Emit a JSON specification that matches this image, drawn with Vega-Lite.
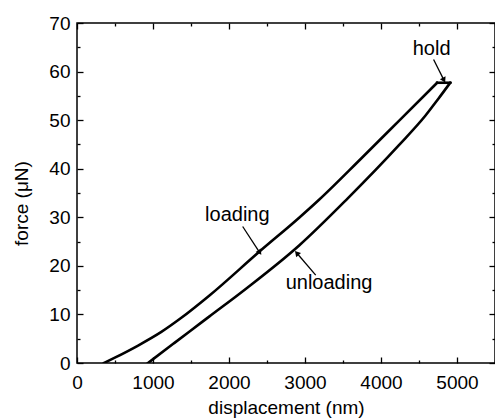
{
  "$schema": "https://vega.github.io/schema/vega-lite/v6.json",
  "width": 418,
  "height": 340,
  "autosize": {"type": "none"},
  "padding": {"left": 77, "top": 23, "right": 0, "bottom": 56},
  "background": "white",
  "config": {
    "view": {"stroke": "black", "strokeWidth": 1.5},
    "font": "Liberation Sans",
    "axis": {"domain": false, "grid": false, "tickColor": "black", "tickWidth": 1.3, "labelColor": "black", "titleColor": "black", "labelFontSize": 19, "titleFontSize": 19, "titleFontWeight": "normal", "labelFont": "Liberation Sans", "titleFont": "Liberation Sans", "labelFlush": false, "labelOverlap": false}
  },
  "datasets": {
    "curve": [
      {"segment": "loading", "i": 1, "displacement": 355, "force": 0},
      {"segment": "loading", "i": 2, "displacement": 498, "force": 1.1},
      {"segment": "loading", "i": 3, "displacement": 804, "force": 3.6},
      {"segment": "loading", "i": 4, "displacement": 1110, "force": 6.4},
      {"segment": "loading", "i": 5, "displacement": 1373, "force": 9.3},
      {"segment": "loading", "i": 6, "displacement": 1743, "force": 13.9},
      {"segment": "loading", "i": 7, "displacement": 2398, "force": 22.9},
      {"segment": "loading", "i": 8, "displacement": 2923, "force": 29.9},
      {"segment": "loading", "i": 9, "displacement": 3185, "force": 33.6},
      {"segment": "loading", "i": 10, "displacement": 3733, "force": 42.0},
      {"segment": "loading", "i": 11, "displacement": 4233, "force": 49.8},
      {"segment": "loading", "i": 12, "displacement": 4739, "force": 57.7},
      {"segment": "hold", "i": 13, "displacement": 4739, "force": 57.7},
      {"segment": "hold", "i": 14, "displacement": 4911, "force": 57.7},
      {"segment": "unloading", "i": 15, "displacement": 4911, "force": 57.7},
      {"segment": "unloading", "i": 16, "displacement": 4750, "force": 54.3},
      {"segment": "unloading", "i": 17, "displacement": 4583, "force": 50.9},
      {"segment": "unloading", "i": 18, "displacement": 4233, "force": 44.8},
      {"segment": "unloading", "i": 19, "displacement": 3556, "force": 33.8},
      {"segment": "unloading", "i": 20, "displacement": 2923, "force": 24.2},
      {"segment": "unloading", "i": 21, "displacement": 2224, "force": 15.3},
      {"segment": "unloading", "i": 22, "displacement": 1743, "force": 9.6},
      {"segment": "unloading", "i": 23, "displacement": 1481, "force": 6.5},
      {"segment": "unloading", "i": 24, "displacement": 1262, "force": 3.9},
      {"segment": "unloading", "i": 25, "displacement": 934, "force": 0}
    ],
    "arrows": [
      {"label": "hold", "x1": 4692, "y1": 62.5, "x2": 4823, "y2": 58.4},
      {"label": "loading", "x1": 2180, "y1": 28.1, "x2": 2398, "y2": 22.9},
      {"label": "unloading", "x1": 3141, "y1": 18.1, "x2": 2900, "y2": 22.5}
    ],
    "labels": [
      {"text": "hold", "x": 4666, "y": 64.7},
      {"text": "loading", "x": 2110, "y": 30.5},
      {"text": "unloading", "x": 3316, "y": 16.5}
    ]
  },
  "resolve": {"axis": {"x": "independent", "y": "independent"}},
  "layer": [
    {
      "data": {"name": "curve"},
      "mark": {"type": "line", "color": "black", "strokeWidth": 2.6, "strokeJoin": "miter", "strokeCap": "square", "interpolate": "monotone", "clip": true},
      "encoding": {
        "x": {"field": "displacement", "type": "quantitative", "scale": {"domain": [0, 5500], "nice": false, "zero": false},
          "axis": {"orient": "bottom", "title": "displacement (nm)", "values": [0, 500, 1000, 1500, 2000, 2500, 3000, 3500, 4000, 4500, 5000, 5500], "format": "d", "labelExpr": "datum.value % 1000 === 0 && datum.value < 5500 ? datum.label : ''", "tickSize": {"condition": {"test": "datum.value % 1000 === 0", "value": -6}, "value": -3}, "labelPadding": 16, "titleBaseline": "alphabetic", "titleY": 50}},
        "y": {"field": "force", "type": "quantitative", "scale": {"domain": [0, 70], "nice": false},
          "axis": {"orient": "left", "title": "force (μN)", "values": [0, 5, 10, 15, 20, 25, 30, 35, 40, 45, 50, 55, 60, 65, 70], "labelExpr": "datum.value % 10 === 0 ? datum.label : ''", "tickSize": {"condition": {"test": "datum.value % 10 === 0", "value": -6}, "value": -3}, "labelPadding": 13, "titlePadding": 17, "titleY": 180}},
        "detail": {"field": "segment"},
        "order": {"field": "i", "type": "quantitative"}
      }
    },
    {
      "data": {"name": "arrows"},
      "mark": {"type": "rule", "color": "black", "strokeWidth": 1.3},
      "encoding": {
        "x": {"field": "x1", "type": "quantitative", "scale": {"domain": [0, 5500], "nice": false, "zero": false},
          "axis": {"orient": "top", "title": null, "labels": false, "values": [0, 500, 1000, 1500, 2000, 2500, 3000, 3500, 4000, 4500, 5000, 5500], "tickSize": {"condition": {"test": "datum.value % 1000 === 0", "value": -6}, "value": -3}}},
        "y": {"field": "y1", "type": "quantitative", "scale": {"domain": [0, 70], "nice": false},
          "axis": {"orient": "right", "title": null, "labels": false, "values": [0, 5, 10, 15, 20, 25, 30, 35, 40, 45, 50, 55, 60, 65, 70], "tickSize": {"condition": {"test": "datum.value % 10 === 0", "value": -6}, "value": -3}}},
        "x2": {"field": "x2"},
        "y2": {"field": "y2"}
      }
    },
    {
      "data": {"name": "arrows"},
      "transform": [{"filter": "datum.label === 'hold'"}],
      "mark": {"type": "point", "shape": "triangle", "filled": true, "color": "black", "size": 40, "angle": 153, "opacity": 1},
      "encoding": {
        "x": {"field": "x2", "type": "quantitative", "axis": null},
        "y": {"field": "y2", "type": "quantitative", "axis": null}
      }
    },
    {
      "data": {"name": "arrows"},
      "transform": [{"filter": "datum.label === 'loading'"}],
      "mark": {"type": "point", "shape": "triangle", "filled": true, "color": "black", "size": 40, "angle": 146, "opacity": 1},
      "encoding": {
        "x": {"field": "x2", "type": "quantitative", "axis": null},
        "y": {"field": "y2", "type": "quantitative", "axis": null}
      }
    },
    {
      "data": {"name": "arrows"},
      "transform": [{"filter": "datum.label === 'unloading'"}],
      "mark": {"type": "point", "shape": "triangle", "filled": true, "color": "black", "size": 40, "angle": 319, "opacity": 1},
      "encoding": {
        "x": {"field": "x2", "type": "quantitative", "axis": null},
        "y": {"field": "y2", "type": "quantitative", "axis": null}
      }
    },
    {
      "data": {"name": "labels"},
      "mark": {"type": "text", "font": "Liberation Sans", "fontSize": 20, "color": "black", "align": "center", "baseline": "middle"},
      "encoding": {
        "x": {"field": "x", "type": "quantitative", "axis": null},
        "y": {"field": "y", "type": "quantitative", "axis": null},
        "text": {"field": "text"}
      }
    }
  ]
}
